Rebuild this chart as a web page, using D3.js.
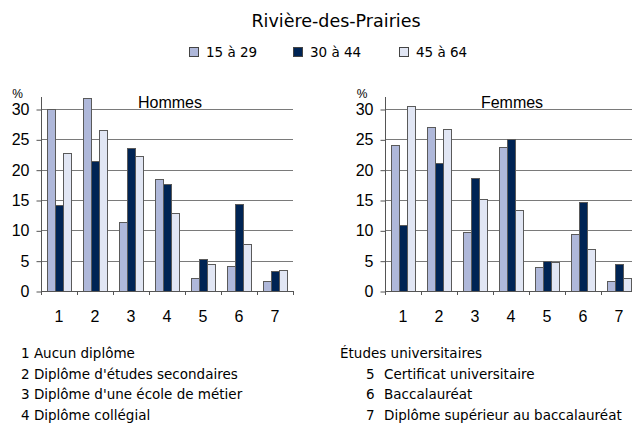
<!DOCTYPE html>
<html>
<head>
<meta charset="utf-8">
<script src="https://cdn.jsdelivr.net/npm/d3@7"></script>
<style>
  body { margin: 0; background: #fff; }
  svg { display: block; }
  .tick text { font-family: "Liberation Sans", Arial, sans-serif; }
</style>
</head>
<body>
<svg id="chart"></svg>
<script>
// categories (education level) and age groups
var categories = ["1", "2", "3", "4", "5", "6", "7"];
var ageGroups = ["15 à 29", "30 à 44", "45 à 64"];
var yTicks = [0, 5, 10, 15, 20, 25, 30];

// percentages, one array per age group
var hommes1529 = [30.0, 31.8, 11.3, 18.5, 2.2, 4.2, 1.6];
var hommes3044 = [14.2, 21.4, 23.6, 17.6, 5.3, 14.3, 3.3];
var hommes4564 = [22.8, 26.5, 22.3, 12.8, 4.5, 7.7, 3.4];

var femmes1529 = [24.1, 27.0, 9.8, 23.8, 4.0, 9.4, 1.6];
var femmes3044 = [10.9, 21.1, 18.7, 25.0, 5.0, 14.6, 4.4];
var femmes4564 = [30.5, 26.7, 15.1, 13.4, 4.7, 6.9, 2.1];

var legendText = [
  "1 Aucun diplôme",
  "2 Diplôme d'études secondaires",
  "3 Diplôme d'une école de métier",
  "4 Diplôme collégial"
];
var legendText2 = [
  ["5", "Certificat universitaire"],
  ["6", "Baccalauréat"],
  ["7", "Diplôme supérieur au baccalauréat"]
];

var colors = ["#afb8da", "#002454", "#e1e6f4"];
var width = 632, height = 423;

var svg = d3.select("#chart").attr("width", width).attr("height", height);
var handFont = "'DejaVu Sans', sans-serif";

// title
svg.append("text")
  .attr("x", 336).attr("y", 27)
  .attr("text-anchor", "middle")
  .style("font-family", handFont)
  .style("font-size", "17.5px")
  .text("Rivière-des-Prairies");

// legend for age groups
var legX = [189, 293, 399];
var leg = svg.append("g");
ageGroups.forEach(function (a, i) {
  leg.append("rect")
    .attr("x", legX[i] + 0.5).attr("y", 47.5)
    .attr("width", 9).attr("height", 9)
    .attr("fill", colors[i])
    .attr("stroke", "#444");
  leg.append("text")
    .attr("x", legX[i] + 17).attr("y", 56.5)
    .style("font-family", handFont)
    .style("font-size", "13.5px")
    .text(a);
});

var y = d3.scaleLinear().domain([0, 30]).range([291, 109]);

function drawPanel(left, label, labelX, pctX, data) {
  var x = d3.scaleBand().domain(categories).range([left, left + 252]);
  var x1 = d3.scaleBand().domain(ageGroups).range([0, x.bandwidth()]).paddingOuter(0.75);
  var g = svg.append("g");

  // gridlines
  g.selectAll(".grid")
    .data(yTicks.slice(1))
    .enter()
    .append("line")
    .attr("x1", left).attr("x2", left + 252)
    .attr("y1", (d) => Math.round(y(d)) + 0.5)
    .attr("y2", (d) => Math.round(y(d)) + 0.5)
    .attr("stroke", "#7a7a7a");

  // panel title sits on the top gridline
  g.append("text")
    .attr("x", labelX).attr("y", 108)
    .attr("text-anchor", "middle")
    .style("font-family", "'Liberation Sans', Arial, sans-serif")
    .style("font-size", "16px")
    .text(label);

  // bars
  var rows = categories.map((c, i) => ({ cat: c, vals: data.map((s) => s[i]) }));
  g.selectAll(".grp")
    .data(rows)
    .enter()
    .append("g")
    .attr("transform", (d) => "translate(" + x(d.cat) + ",0)")
    .selectAll("rect")
    .data((d) => d.vals.map((v, j) => ({ key: ageGroups[j], v: v, j: j })))
    .enter()
    .append("rect")
    .attr("x", (d) => x1(d.key) + 0.5)
    .attr("y", (d) => Math.round(y(d.v)) + 0.5)
    .attr("width", x1.bandwidth())
    .attr("height", (d) => Math.round(y(0)) - Math.round(y(d.v)))
    .attr("fill", (d) => colors[d.j])
    .attr("stroke", "#5a5a5a");

  // y axis
  var yAxis = g.append("g")
    .attr("transform", "translate(" + (left + 0.5) + ",0.5)")
    .call(d3.axisLeft(y).tickValues(yTicks).tickSize(5).tickPadding(7));
  yAxis.select(".domain").remove();
  yAxis.selectAll(".tick line").attr("stroke", "#555");
  yAxis.selectAll(".tick text").style("font-size", "16px").attr("fill", "#000");
  g.append("line")
    .attr("x1", left + 0.5).attr("x2", left + 0.5)
    .attr("y1", 97).attr("y2", 291)
    .attr("stroke", "#555");

  // x axis: line, ticks between categories, labels at centres
  var xAxis = g.append("g")
    .attr("transform", "translate(0,291.5)")
    .call(d3.axisBottom(x).tickSize(0).tickPadding(19));
  xAxis.select(".domain").remove();
  xAxis.selectAll(".tick text").style("font-size", "16px").attr("fill", "#000");
  g.append("line")
    .attr("x1", left).attr("x2", left + 252)
    .attr("y1", 291.5).attr("y2", 291.5)
    .attr("stroke", "#555");
  g.selectAll(".xt")
    .data(categories.map((c) => x(c)).concat([left + 252]))
    .enter()
    .append("line")
    .attr("x1", (d) => Math.round(d) + 0.5).attr("x2", (d) => Math.round(d) + 0.5)
    .attr("y1", 291).attr("y2", 295)
    .attr("stroke", "#555");

  g.append("text")
    .attr("x", pctX).attr("y", 98)
    .attr("text-anchor", "middle")
    .style("font-family", "'Liberation Sans', Arial, sans-serif")
    .style("font-size", "12px")
    .text("%");
}

drawPanel(41, "Hommes", 170, 17.5, [hommes1529, hommes3044, hommes4564]);
drawPanel(385, "Femmes", 512, 362, [femmes1529, femmes3044, femmes4564]);

// category legend at the bottom
var notes = svg.append("g")
  .style("font-family", handFont)
  .style("font-size", "13.5px");
legendText.forEach(function (t, i) {
  notes.append("text").attr("x", 21).attr("y", 358 + i * 20.7).text(t);
});
notes.append("text").attr("x", 340).attr("y", 358).text("Études universitaires");
legendText2.forEach(function (t, i) {
  notes.append("text").attr("x", 366).attr("y", 378.7 + i * 20.7).text(t[0]);
  notes.append("text").attr("x", 384).attr("y", 378.7 + i * 20.7).text(t[1]);
});
</script>
</body>
</html>
